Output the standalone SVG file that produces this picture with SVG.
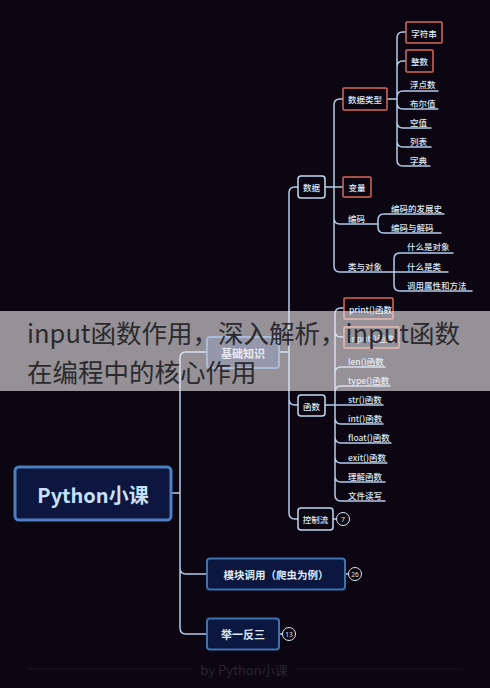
<svg xmlns="http://www.w3.org/2000/svg" width="490" height="688" viewBox="0 0 490 688">
<style>
.c{fill:none;stroke:#b4cce8;stroke-width:1.5;stroke-linecap:round}
.t{font-family:"Noto Sans CJK SC","Noto Sans",sans-serif;fill:#dce8f5;font-size:8.5px;font-weight:500;dominant-baseline:central}
.l1{fill:#0c173f;stroke:#3f72b0;stroke-width:2}
.l2{fill:#0b0612;stroke:#c5d9ef;stroke-width:1.5}
.rd{fill:#0b0612;stroke:#d9685a;stroke-width:1.5}
.b{font-weight:700;font-size:11px;fill:#dfe9f6}
.n{fill:#0b0612;stroke:#dce8f5;stroke-width:1}
.nt{font-family:"Noto Sans","DejaVu Sans",sans-serif;fill:#dce8f5;font-size:7px;text-anchor:middle;dominant-baseline:central}
</style>
<rect width="490" height="688" fill="#0b0611"/>
<g id="connectors">
<path class="c" d="M171,493 H180 M180,493 V358 Q180,352 186,352 H207 M180,493 V568 Q180,574 186,574 H207 M180,493 V628 Q180,634 186,634 H207"/>
<path class="c" d="M345,574 H348.5 M279,634 H282.5 M333,519 H336.5"/>
<path class="c" d="M279,352 H289 V193 Q289,187 295,187 H298 M289,352 V399 Q289,405 295,405 H298 M289,352 V513 Q289,519 295,519 H298"/>
<path class="c" d="M325,187 H343 M334,187 V105 Q334,99 340,99 H343 M334,187 V218 Q334,224 340,224 H376 H378 M334,187 V266 Q334,272 340,272 H448"/>
<path class="c" d="M387,99 H397 M397,99 V38 Q397,32 403,32 H406 M397,99 V67 Q397,61 403,61 H406 M397,99 V97 Q397,91 403,91 H438 M397,99 V103 Q397,109 403,109 H438 M397,99 V122 Q397,128 403,128 H431 M397,99 V141 Q397,147 403,147 H431 M397,99 V160 Q397,166 403,166 H430"/>
<path class="c" d="M378,224 V220 Q378,214 384,214 H444 M378,224 V227 Q378,233 384,233 H441"/>
<path class="c" d="M394,272 V259 Q394,253 400,253 H453 M394,272 V285 Q394,291 400,291 H472"/>
<path class="c" d="M325,405 H335 M335,405 V314 Q335,308 341,308 H344 M335,405 V331 Q335,337 341,337 H344 M335,405 V373 Q335,367 341,367 H385 M335,405 V392 Q335,386 341,386 H390 M335,405 H383 M335,405 V418 Q335,424 341,424 H383 M335,405 V437 Q335,443 341,443 H391 M335,405 V457 Q335,463 341,463 H387 M335,405 V476 Q335,482 341,482 H385 M335,405 V495 Q335,501 341,501 H385"/>
</g>
<g id="root"><rect x="15" y="467" width="156" height="53" rx="4" fill="#0c163f" stroke="#4a7fc0" stroke-width="3"/><text x="93" y="494" class="t" style="font-size:20px;font-weight:600;fill:#c8e0fa" text-anchor="middle">Python小课</text></g>
<g id="n-jichu"><rect class="l1" x="207" y="337" width="72" height="31" rx="3"/><text class="t b" x="243" y="352.5" text-anchor="middle">基础知识</text></g>
<g id="n-mokuai"><rect class="l1" x="207" y="558.5" width="138" height="31" rx="3"/><text class="t b" x="276" y="574" text-anchor="middle" style="font-size:10.5px">模块调用（爬虫为例）</text>
<circle class="n" cx="355" cy="574" r="6.5"/><text class="nt" x="355" y="574" style="font-size:6.5px">26</text></g>
<g id="n-juyi"><rect class="l1" x="207" y="618.5" width="72" height="31" rx="3"/><text class="t b" x="243" y="634" text-anchor="middle">举一反三</text>
<circle class="n" cx="289" cy="634" r="6.5"/><text class="nt" x="289" y="634" style="font-size:6.5px">13</text></g>
<g id="n-shuju"><rect class="l2" x="298" y="176" width="27" height="22" rx="3"/><text class="t" x="311.5" y="187" text-anchor="middle">数据</text></g>
<g id="n-hanshu"><rect class="l2" x="298" y="395" width="27" height="21" rx="3"/><text class="t" x="311.5" y="405.5" text-anchor="middle">函数</text></g>
<g id="n-kongzhi"><rect class="l2" x="298" y="508" width="35" height="22" rx="3"/><text class="t" x="315.5" y="519" text-anchor="middle">控制流</text>
<circle class="n" cx="343" cy="519" r="6.5"/><text class="nt" x="343" y="519">7</text></g>
<g id="n-shujuleixing"><rect class="rd" x="343" y="88" width="44" height="22" rx="1"/><text class="t" x="365" y="99" text-anchor="middle">数据类型</text></g>
<g id="n-bianliang"><rect class="rd" x="343" y="177" width="28" height="20" rx="1"/><text class="t" x="357" y="187" text-anchor="middle">变量</text></g>
<g id="n-bianma"><text class="t" x="348" y="218">编码</text></g>
<g id="n-lei"><text class="t" x="348" y="266">类与对象</text></g>
<g id="n-zifuchuan"><rect class="rd" x="406" y="22" width="36" height="21" rx="1"/><text class="t" x="424" y="32.5" text-anchor="middle">字符串</text></g>
<g id="n-zhengshu"><rect class="rd" x="406" y="50" width="27" height="22" rx="1"/><text class="t" x="419.5" y="61" text-anchor="middle">整数</text></g>
<g id="n-fudian"><text class="t" x="410" y="84">浮点数</text></g>
<g id="n-buer"><text class="t" x="410" y="103">布尔值</text></g>
<g id="n-kongzhi2"><text class="t" x="410" y="122">空值</text></g>
<g id="n-liebiao"><text class="t" x="410" y="141">列表</text></g>
<g id="n-zidian"><text class="t" x="410" y="160">字典</text></g>
<g id="n-fazhan"><text class="t" x="391" y="208">编码的发展史</text></g>
<g id="n-jiema"><text class="t" x="391" y="227">编码与解码</text></g>
<g id="n-duixiang"><text class="t" x="407" y="246">什么是对象</text></g>
<g id="n-shilei"><text class="t" x="407" y="265.5">什么是类</text></g>
<g id="n-diaoyong"><text class="t" x="407" y="285">调用属性和方法</text></g>
<g id="n-print"><rect class="rd" x="344" y="298" width="49" height="21" rx="1"/><text class="t" x="349" y="308.5">print()函数</text></g>
<g id="n-input"><rect class="rd" x="344" y="327" width="55" height="21" rx="1"/><text class="t" x="349" y="337.5">input()函数</text></g>
<g id="n-len"><text class="t" x="348" y="361">len()函数</text></g>
<g id="n-type"><text class="t" x="348" y="380">type()函数</text></g>
<g id="n-str"><text class="t" x="348" y="399">str()函数</text></g>
<g id="n-int"><text class="t" x="348" y="418">int()函数</text></g>
<g id="n-float"><text class="t" x="348" y="437">float()函数</text></g>
<g id="n-exit"><text class="t" x="348" y="456.5">exit()函数</text></g>
<g id="n-lijie"><text class="t" x="348" y="475.5">理解函数</text></g>
<g id="n-wenjian"><text class="t" x="348" y="494.5">文件读写</text></g>
<g id="footer">
<path d="M27,669 H193 M295,669 H463" stroke="#1c1722" stroke-width="1"/>
<text x="244" y="669" font-family="Noto Sans CJK SC,Noto Sans,sans-serif" font-size="13" fill="#2a2531" text-anchor="middle" dominant-baseline="central">by Python小课</text>
</g>
<g id="overlay">
<rect x="0" y="311" width="490" height="80" fill="#f2eef1" fill-opacity="0.6"/>
<text font-family="Noto Sans CJK SC,Noto Sans,sans-serif" font-size="25.5" fill="#2b2a2c"><tspan x="27" y="343">input函数作用，深入解析，input函数</tspan><tspan x="27" y="382">在编程中的核心作用</tspan></text>
</g>
</svg>
